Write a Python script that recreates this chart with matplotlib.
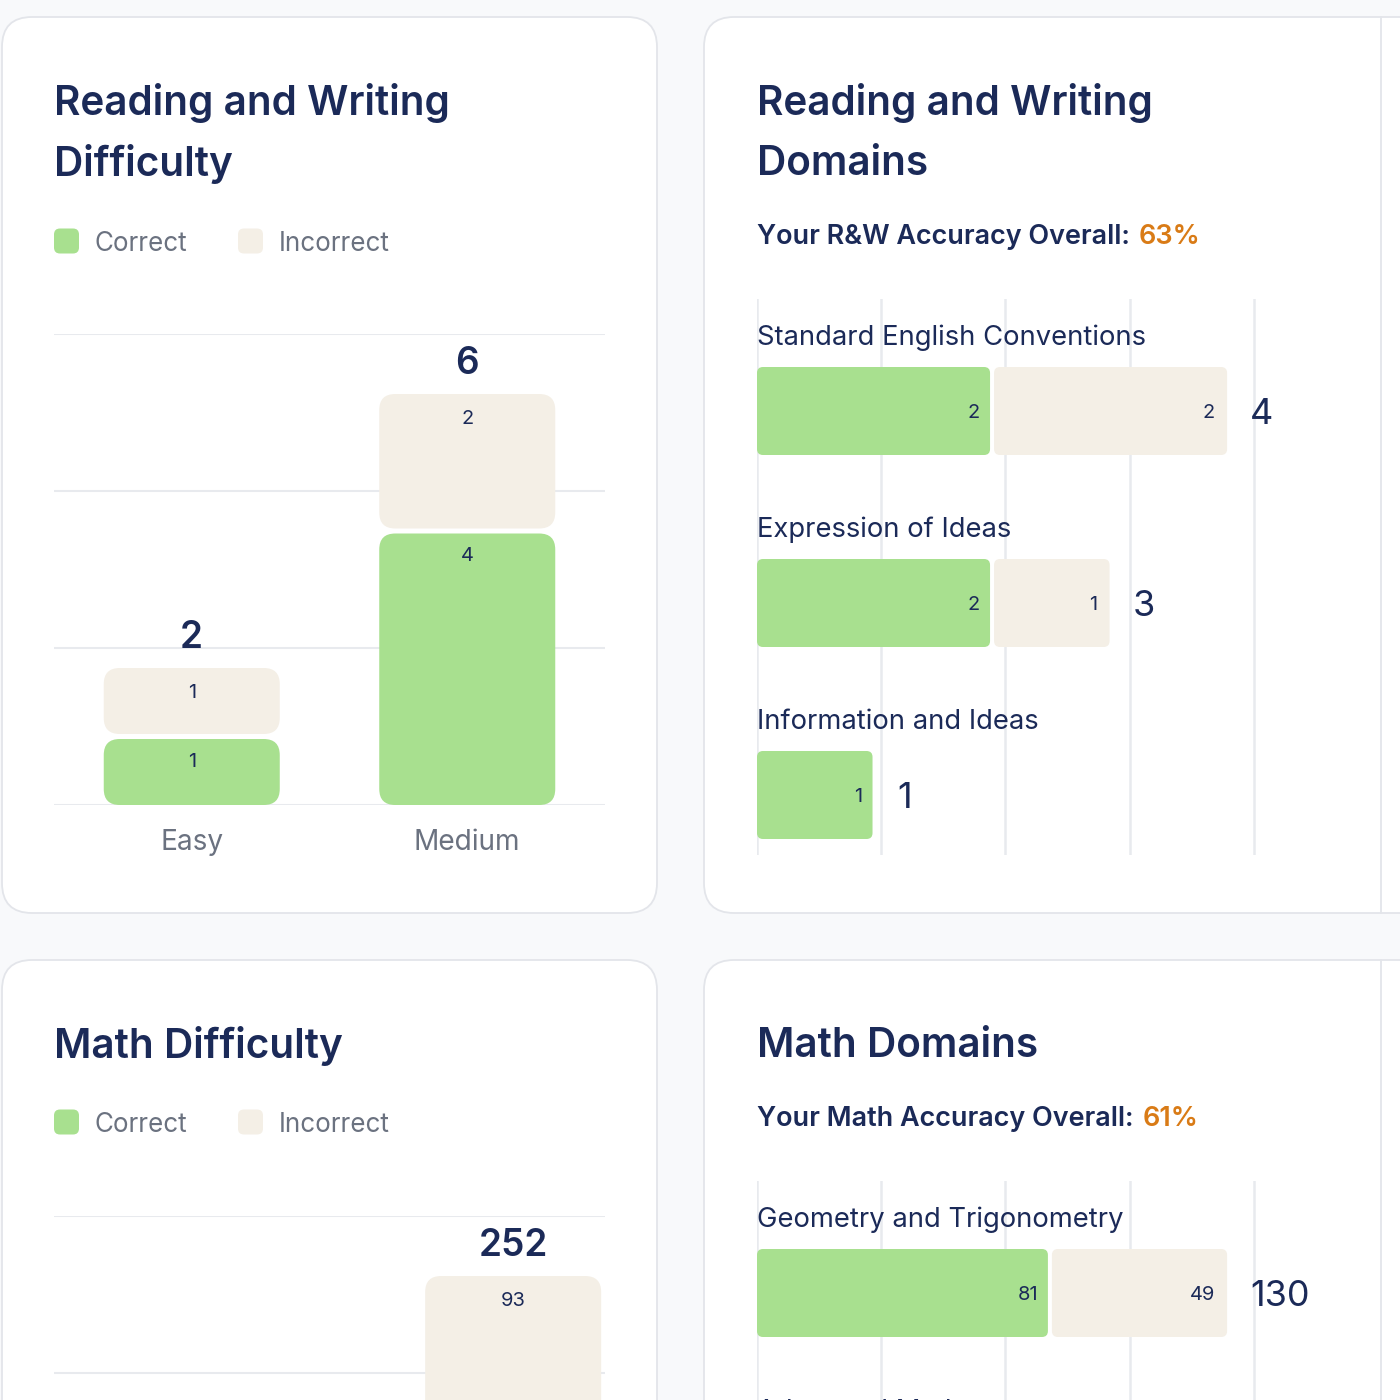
import matplotlib
matplotlib.use("Agg")
import matplotlib.pyplot as plt
from matplotlib.patches import FancyBboxPatch

plt.rcParams['font.family'] = ['Inter', 'DejaVu Sans']

NAVY = '#1b2a58'
GRAY = '#6b7280'
GREEN = '#a8e08f'
BEIGE = '#f4efe6'
ORANGE = '#d97b16'
GRID = '#e8eaee'
BORDER = '#e3e5ea'
PAGE = '#f8f9fb'

# --- data -------------------------------------------------------------
rw_levels = ['Easy', 'Medium']
rw_correct = [1, 4]
rw_incorrect = [1, 2]

math_levels = ['Easy', 'Medium', 'Hard']
math_correct = [38, 69, 159]
math_incorrect = [16, 61, 93]

rw_domains = ['Standard English Conventions', 'Expression of Ideas', 'Information and Ideas']
rw_dom_correct = [2, 2, 1]
rw_dom_incorrect = [2, 1, 0]

math_domains = ['Geometry and Trigonometry', 'Advanced Math', 'Algebra',
                'Problem-Solving and Data Analysis']
math_dom_correct = [81, 70, 64, 51]
math_dom_incorrect = [49, 40, 38, 43]

rw_accuracy = '63%'
math_accuracy = '61%'

W = H = 1400
fig = plt.figure(figsize=(14, 14), dpi=100)
fig.patch.set_facecolor(PAGE)
bg = fig.add_axes([0, 0, 1, 1])
bg.set_xlim(0, W)
bg.set_ylim(H, 0)
bg.axis('off')


def pt(v):
    # pixels -> points at 100 dpi
    return v * 0.72


def ax_at(x0, y0, x1, y1):
    ax = fig.add_axes([x0 / W, 1 - y1 / H, (x1 - x0) / W, (y1 - y0) / H])
    ax.set_facecolor('none')
    for s in ax.spines.values():
        s.set_visible(False)
    return ax


def card(x0, y0, x1, y1, divider=None):
    bg.add_patch(FancyBboxPatch((x0, y0), x1 - x0, y1 - y0,
                                boxstyle='round,pad=0,rounding_size=30',
                                fc='white', ec=BORDER, lw=1.3))
    if divider:
        bg.plot([divider, divider], [y0, y1], color=BORDER, lw=1.3)


def title(x, y, lines):
    for i, line in enumerate(lines):
        bg.text(x, y + i * 61, line, va='center', ha='left', fontsize=pt(40.5),
                fontweight='semibold', color=NAVY)


def legend(x, y):
    for dx, label, col in ((0, 'Correct', GREEN), (184, 'Incorrect', BEIGE)):
        bg.add_patch(FancyBboxPatch((x + dx, y - 12.5), 25, 25,
                                    boxstyle='round,pad=0,rounding_size=6',
                                    fc=col, ec='none'))
        bg.text(x + dx + 41, y + 3, label, va='center', ha='left',
                fontsize=pt(26), color=GRAY)


def accuracy(x, y, text, value):
    t = bg.text(x, y, text, va='center', ha='left', fontsize=pt(27),
                fontweight='semibold', color=NAVY)
    bg.annotate(value, xy=(1, 0), xycoords=t, xytext=(pt(9), 0),
                textcoords='offset points', va='bottom', ha='left',
                fontsize=pt(27), fontweight='semibold', color=ORANGE)


def rounded(ax, x, y, w, h, r, aspect, color):
    ax.add_patch(FancyBboxPatch((x, y), w, h,
                                boxstyle=f'round,pad=0,rounding_size={r}',
                                mutation_aspect=aspect, fc=color, ec='none',
                                zorder=2))


def difficulty_chart(box, levels, correct, incorrect):
    ax = ax_at(*box)
    n = len(levels)
    totals = [c + i for c, i in zip(correct, incorrect)]
    ymax = max(totals) * 1.146
    ax.set_xlim(-0.5, n - 0.5)
    ax.set_ylim(0, ymax)
    ux = (box[2] - box[0]) / n
    uy = (box[3] - box[1]) / ymax
    xs = list(range(n))
    b1 = ax.bar(xs, correct, width=176 / ux, color=GREEN)
    b2 = ax.bar(xs, incorrect, width=176 / ux, bottom=correct, color=BEIGE)
    gap = 2.5 / uy
    for bars, col, lower in ((b1, GREEN, True), (b2, BEIGE, False)):
        for r in bars:
            x, y, w, h = r.get_x(), r.get_y(), r.get_width(), r.get_height()
            r.remove()
            if h <= 0:
                continue
            if lower:
                h -= gap
            else:
                y += gap
                h -= gap
            rounded(ax, x, y, w, h, 16 / ux, ux / uy, col)
    for xi, c, i, t in zip(xs, correct, incorrect, totals):
        ax.annotate(str(t), (xi, t), xytext=(0, pt(30)), textcoords='offset points',
                    ha='center', va='center', fontsize=pt(37),
                    fontweight='semibold', color=NAVY)
        for top, v in ((c, c), (t, i)):
            if v > 0:
                ax.annotate(str(v), (xi, top), xytext=(0, -pt(25)),
                            textcoords='offset points', ha='center', va='center',
                            fontsize=pt(20), color=NAVY)
    for k in range(4):
        ax.axhline(ymax * k / 3, color=GRID, lw=1.5, zorder=0)
    ax.set_xticks(xs, levels)
    ax.set_yticks([])
    ax.tick_params(axis='x', length=0, pad=pt(24), labelsize=pt(28),
                   labelcolor=GRAY)
    return ax


def domain_chart(box, names, correct, incorrect, row=192, top=112):
    ax = ax_at(*box)
    n = len(names)
    totals = [c + i for c, i in zip(correct, incorrect)]
    xmax = max(totals) * 1.321
    ux = (box[2] - box[0]) / xmax
    ylo = -top / row
    yhi = ylo + (box[3] - box[1]) / row
    ax.set_xlim(0, xmax)
    ax.set_ylim(yhi, ylo)
    ys = list(range(n))
    hgt = 88 / row
    b1 = ax.barh(ys, correct, height=hgt, color=GREEN)
    b2 = ax.barh(ys, incorrect, left=correct, height=hgt, color=BEIGE)
    gap = 2.0 / ux
    for bars, col, left in ((b1, GREEN, True), (b2, BEIGE, False)):
        for r in bars:
            x, y, w, h = r.get_x(), r.get_y(), r.get_width(), r.get_height()
            r.remove()
            if w <= 0:
                continue
            if left:
                w -= gap
            else:
                x += gap
                w -= gap
            rounded(ax, x, y, w, h, 6 / ux, ux / row, col)
    for yi, name, c, i, t in zip(ys, names, correct, incorrect, totals):
        ax.text(0, yi - 73 / row, name, ha='left', va='center',
                fontsize=pt(27.4), color=NAVY)
        for end, v in ((c, c), (t, i)):
            if v > 0:
                ax.annotate(str(v), (end, yi), xytext=(-pt(12), -pt(2)),
                            textcoords='offset points', ha='right', va='center',
                            fontsize=pt(20), color=NAVY)
        ax.annotate(str(t), (t, yi), xytext=(pt(23), -pt(3)),
                    textcoords='offset points', ha='left', va='center',
                    fontsize=pt(36), color=NAVY)
    for k in range(5):
        ax.axvline(xmax * k / 5, color=GRID, lw=1.8, zorder=0)
    ax.set_xticks([])
    ax.set_yticks([])
    return ax


# --- cards ------------------------------------------------------------
card(2, 17, 657, 913)
card(704, 17, 1440, 913, divider=1381)
card(2, 960, 657, 1460)
card(704, 960, 1440, 1460, divider=1381)

# R&W difficulty
title(54, 103, ['Reading and Writing', 'Difficulty'])
legend(54, 241)
difficulty_chart((54, 334, 605, 805), rw_levels, rw_correct, rw_incorrect)

# R&W domains
title(757, 103, ['Reading and Writing', 'Domains'])
accuracy(757, 237, 'Your R&W Accuracy Overall:', rw_accuracy)
domain_chart((757, 299, 1378, 855), rw_domains, rw_dom_correct, rw_dom_incorrect)

# Math difficulty
title(54, 1046, ['Math Difficulty'])
legend(54, 1122)
difficulty_chart((54, 1216, 605, 1687), math_levels, math_correct, math_incorrect)

# Math domains
title(757, 1046, ['Math Domains'])
accuracy(757, 1119, 'Your Math Accuracy Overall:', math_accuracy)
domain_chart((757, 1181, 1378, 1928), math_domains, math_dom_correct,
             math_dom_incorrect)

# the cards run on below the picture: hide labels that fall wholly off it
fig.canvas.draw()
for ax in fig.axes:
    for t in ax.texts + ax.get_xticklabels():
        if t.get_window_extent().y1 < 0:
            t.set_visible(False)

fig.savefig('out.png', dpi=100, facecolor=fig.get_facecolor())
